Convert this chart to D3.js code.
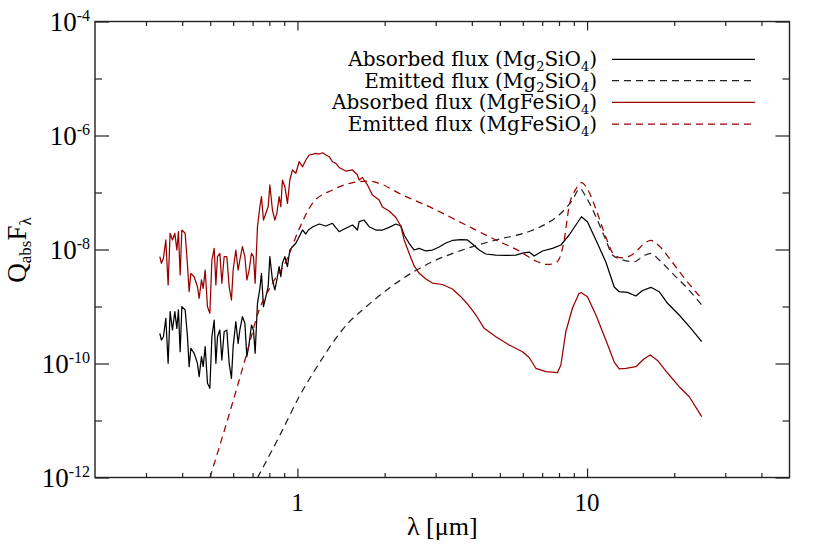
<!DOCTYPE html>
<html>
<head>
<meta charset="utf-8">
<script src="https://cdn.jsdelivr.net/npm/d3@7/dist/d3.min.js"></script>
<style>
  body { margin: 0; background: #fff; }
</style>
</head>
<body>
<div id="chart"></div>
<script>
// wavelengths [micron] of the noisy short-wavelength part, shared by both absorbed curves
const lamShort = [0.3348, 0.3391, 0.3446, 0.3512, 0.3577, 0.3634, 0.3702, 0.3773, 0.3834, 0.3883,
  0.3936, 0.3990, 0.4096, 0.4172, 0.4227, 0.4285, 0.4399, 0.4516, 0.4578, 0.4662,
  0.4726, 0.4802, 0.4891, 0.4985, 0.5065, 0.5159, 0.5229, 0.5296, 0.5397, 0.5483,
  0.5584, 0.5705, 0.5811, 0.5918, 0.5998, 0.6128, 0.6241, 0.6327, 0.6459, 0.6584,
  0.6689, 0.6812, 0.6939, 0.7050, 0.7145, 0.7278, 0.7419, 0.7513, 0.7633, 0.7780,
  0.7923, 0.8030, 0.8198, 0.8356, 0.8490, 0.8647, 0.8763, 0.8875, 0.9048, 0.9236,
  0.9414, 0.9610, 0.9874, 1.0137];

// all fluxes below are log10(Q_abs F_lambda)
const absMg2Short = [-9.470, -9.588, -9.530, -9.207, -9.997, -9.091, -9.412, -9.091, -9.383, -9.061,
  -9.793, -9.003, -9.061, -9.530, -10.056, -9.733, -9.821, -9.997, -10.231, -9.881,
  -10.056, -9.705, -10.347, -10.435, -9.530, -9.237, -9.997, -9.530, -9.412, -9.939,
  -9.442, -9.412, -9.997, -10.260, -9.705, -9.267, -9.646, -9.412, -9.179, -9.295,
  -9.881, -9.646, -9.325, -9.412, -9.821, -8.944, -8.681, -8.418, -9.003, -8.828,
  -8.653, -8.126, -8.535, -8.710, -8.535, -8.302, -8.477, -8.242, -8.126, -8.302,
  -8.009, -7.951, -7.891, -7.776];

const absMgFeShort = [-8.126, -8.242, -8.154, -7.833, -8.623, -7.716, -7.833, -7.716, -8.009, -7.688,
  -8.447, -7.658, -7.716, -8.272, -8.740, -8.418, -8.477, -8.653, -8.856, -8.535,
  -8.681, -8.360, -9.003, -9.119, -8.184, -7.979, -8.623, -8.126, -8.067, -8.593,
  -8.126, -8.126, -8.653, -8.886, -8.360, -8.009, -8.360, -8.184, -7.951, -8.126,
  -8.535, -8.360, -8.067, -8.126, -8.593, -7.600, -7.249, -7.074, -7.483, -7.365,
  -7.249, -6.868, -7.307, -7.483, -7.365, -7.074, -7.249, -6.781, -6.898, -7.190,
  -6.781, -6.605, -6.663, -6.460];

// absorbed flux, Mg2SiO4, lambda > 1 micron
const absMg2LamLong = [1.041, 1.069, 1.091, 1.127, 1.189, 1.254, 1.321, 1.393, 1.469, 1.549,
  1.611, 1.633, 1.699, 1.768, 1.865, 1.966, 2.073, 2.187, 2.275, 2.336,
  2.430, 2.529, 2.632, 2.776, 2.925, 3.085, 3.254, 3.429, 3.666, 3.864,
  4.020, 4.241, 4.473, 4.843, 5.244, 5.679, 5.984, 6.310, 6.567, 7.016,
  7.596, 8.121, 8.675, 9.150, 9.564, 10.03, 10.73, 11.61, 12.41, 12.91,
  13.79, 14.74, 15.54, 16.61, 17.74, 18.96, 20.80, 22.83, 24.88];
const absMg2Long = [-7.658, -7.728, -7.658, -7.605, -7.553, -7.588, -7.540, -7.688, -7.628, -7.570,
  -7.658, -7.512, -7.483, -7.600, -7.658, -7.658, -7.611, -7.553, -7.588, -7.746,
  -7.891, -8.009, -7.979, -8.026, -8.009, -7.956, -7.886, -7.842, -7.825, -7.833,
  -7.904, -8.009, -8.079, -8.097, -8.105, -8.097, -8.062, -8.044, -8.114, -8.026,
  -7.979, -7.921, -7.746, -7.570, -7.425, -7.512, -7.833, -8.219, -8.658, -8.740,
  -8.751, -8.816, -8.719, -8.663, -8.740, -8.944, -9.149, -9.383, -9.618];

// absorbed flux, MgFeSiO4, lambda > 1 micron
const absMgFeLamLong = [1.041, 1.069, 1.098, 1.127, 1.157, 1.189, 1.220, 1.254, 1.287, 1.321,
  1.357, 1.393, 1.469, 1.549, 1.611, 1.633, 1.676, 1.745, 1.815, 1.915,
  1.966, 2.073, 2.187, 2.275, 2.336, 2.430, 2.529, 2.632, 2.776, 2.925,
  3.167, 3.429, 3.666, 3.864, 4.130, 4.413, 4.843, 5.383, 5.984, 6.310,
  6.656, 7.208, 7.904, 8.121, 8.450, 8.906, 9.386, 9.564, 10.03, 10.73,
  11.61, 12.41, 12.91, 13.62, 14.74, 15.75, 16.52, 17.51, 18.96, 20.80,
  22.53, 24.88];
const absMgFeLong = [-6.548, -6.430, -6.342, -6.330, -6.312, -6.325, -6.302, -6.342, -6.372, -6.460,
  -6.488, -6.561, -6.623, -6.605, -6.693, -6.781, -6.737, -6.868, -7.044, -7.131,
  -7.254, -7.325, -7.438, -7.588, -7.833, -8.067, -8.289, -8.418, -8.517, -8.588,
  -8.614, -8.693, -8.828, -8.956, -9.149, -9.383, -9.530, -9.675, -9.793, -9.895,
  -10.084, -10.144, -10.158, -10.026, -9.438, -9.026, -8.768, -8.758, -8.828, -9.149,
  -9.588, -9.974, -10.096, -10.084, -10.056, -9.917, -9.851, -9.947, -10.167, -10.407,
  -10.583, -10.933];

// emitted flux, Mg2SiO4
const emiMg2Lam = [0.7277, 0.8647, 1.0137, 1.1885, 1.393, 1.508, 1.676, 2.187, 2.850, 3.713,
  4.843, 6.310, 7.208, 8.225, 8.906, 9.439, 9.905, 10.73, 11.61, 12.24,
  13.09, 14.55, 15.75, 16.61, 17.74, 19.72, 21.94, 24.88];
const emiMg2 = [-12.004, -11.284, -10.583, -9.997, -9.483, -9.272, -9.061, -8.593, -8.242, -8.009,
  -7.833, -7.684, -7.553, -7.337, -7.131, -6.930, -7.074, -7.425, -7.833, -8.097,
  -8.172, -8.214, -8.105, -8.070, -8.184, -8.418, -8.653, -8.974];

// emitted flux, MgFeSiO4
const emiMgFeLam = [0.4985, 0.5965, 0.6636, 0.7375, 0.8198, 0.9119, 1.0137, 1.1266, 1.321, 1.591,
  1.768, 1.915, 2.305, 2.850, 3.713, 4.843, 5.830, 6.656, 7.300, 7.761,
  8.012, 8.337, 8.675, 9.150, 9.564, 10.03, 10.73, 11.61, 12.41, 13.26,
  14.55, 15.75, 16.61, 17.74, 19.72, 21.94, 24.88];
const emiMgFe = [-12.004, -10.698, -9.881, -9.061, -8.593, -8.214, -7.641, -7.190, -6.956, -6.816,
  -6.798, -6.839, -7.044, -7.249, -7.540, -7.833, -8.026, -8.202, -8.263, -8.237,
  -8.167, -7.833, -7.237, -6.939, -6.828, -6.939, -7.290, -7.781, -8.097, -8.149,
  -8.067, -7.895, -7.842, -7.938, -8.228, -8.535, -8.860];

const xMajor = [1, 10];
const xMinor = [0.3, 0.4, 0.5, 0.6, 0.7, 0.8, 0.9, 2, 3, 4, 5, 6, 7, 8, 9, 20, 30, 40];
const yMajorExp = [-12, -10, -8, -6, -4];
const yMinorExp = [-11, -9, -7, -5];

const legendLabels = [
  [["Absorbed flux (Mg", 0], ["2", 1], ["SiO", 0], ["4", 1], [")", 0]],
  [["Emitted flux (Mg", 0], ["2", 1], ["SiO", 0], ["4", 1], [")", 0]],
  [["Absorbed flux (MgFeSiO", 0], ["4", 1], [")", 0]],
  [["Emitted flux (MgFeSiO", 0], ["4", 1], [")", 0]]
];

const black = "#000", red = "#9a0000";

const series = [
  {lam: lamShort.concat(absMg2LamLong), f: absMg2Short.concat(absMg2Long), color: black, dash: null, smooth: false},
  {lam: emiMg2Lam, f: emiMg2, color: "#222", dash: "7,5", smooth: true},
  {lam: lamShort.concat(absMgFeLamLong), f: absMgFeShort.concat(absMgFeLong), color: red, dash: null, smooth: false},
  {lam: emiMgFeLam, f: emiMgFe, color: red, dash: "7,5", smooth: true}
];

const width = 830, height = 554;
const pLeft = 95, pRight = 789.5, pTop = 21.5, pBottom = 477.5;
const serif = "Liberation Serif";
const legendFont = "DejaVu Serif";

let x = d3.scaleLog().domain([0.2, 50]).range([pLeft, pRight]);
let y = d3.scaleLog().domain([1e-12, 1e-4]).range([pBottom, pTop]);

let svg = d3.select("#chart").append("svg")
    .attr("width", width)
    .attr("height", height);

svg.append("clipPath").attr("id", "plot-clip")
    .append("rect")
    .attr("x", pLeft).attr("y", pTop)
    .attr("width", pRight - pLeft).attr("height", pBottom - pTop);

// curves
let plot = svg.append("g").attr("clip-path", "url(#plot-clip)");

series.forEach(s => {
    let pts = s.lam.map((l, i) => [l, Math.pow(10, s.f[i])]);
    let line = d3.line()
        .x(d => x(d[0]))
        .y(d => y(d[1]))
        .curve(s.smooth ? d3.curveMonotoneX : d3.curveLinear);
    plot.append("path")
        .datum(pts)
        .attr("d", line)
        .attr("fill", "none")
        .attr("stroke", s.color)
        .attr("stroke-width", 1.25)
        .attr("stroke-dasharray", s.dash)
        .attr("stroke-linejoin", "round");
});

// axes: ticks pointing inwards on all four sides
function styleAxis(g) {
    g.select(".domain").remove();
    g.selectAll(".tick line").attr("stroke", "#222").attr("stroke-width", 1.2);
    g.selectAll(".tick text").remove();
}

let yMajor = yMajorExp.map(e => Math.pow(10, e));
let yMinor = yMinorExp.map(e => Math.pow(10, e));

svg.append("g").attr("transform", `translate(0,${pBottom})`)
    .call(d3.axisBottom(x).tickValues(xMajor).tickSize(-9)).call(styleAxis);
svg.append("g").attr("transform", `translate(0,${pBottom})`)
    .call(d3.axisBottom(x).tickValues(xMinor).tickSize(-4.5)).call(styleAxis);
svg.append("g").attr("transform", `translate(0,${pTop})`)
    .call(d3.axisTop(x).tickValues(xMajor).tickSize(-9)).call(styleAxis);
svg.append("g").attr("transform", `translate(0,${pTop})`)
    .call(d3.axisTop(x).tickValues(xMinor).tickSize(-4.5)).call(styleAxis);

svg.append("g").attr("transform", `translate(${pLeft},0)`)
    .call(d3.axisLeft(y).tickValues(yMajor).tickSize(-14)).call(styleAxis);
svg.append("g").attr("transform", `translate(${pLeft},0)`)
    .call(d3.axisLeft(y).tickValues(yMinor).tickSize(-7)).call(styleAxis);
svg.append("g").attr("transform", `translate(${pRight},0)`)
    .call(d3.axisRight(y).tickValues(yMajor).tickSize(-14)).call(styleAxis);
svg.append("g").attr("transform", `translate(${pRight},0)`)
    .call(d3.axisRight(y).tickValues(yMinor).tickSize(-7)).call(styleAxis);

svg.append("rect")
    .attr("x", pLeft).attr("y", pTop)
    .attr("width", pRight - pLeft).attr("height", pBottom - pTop)
    .attr("fill", "none")
    .attr("stroke", "#222")
    .attr("stroke-width", 1.4);

// tick labels
svg.selectAll(".xlab").data(xMajor).enter().append("text")
    .attr("class", "xlab")
    .style("font-family", serif)
    .attr("x", d => x(d))
    .attr("y", pBottom + 33)
    .attr("text-anchor", "middle")
    .attr("font-size", 25)
    .text(d => d);

let ylab = svg.selectAll(".ylab").data(yMajorExp).enter().append("text")
    .attr("class", "ylab")
    .style("font-family", serif)
    .attr("x", pLeft - 5)
    .attr("y", d => y(Math.pow(10, d)) + 9.5)
    .attr("text-anchor", "end")
    .attr("font-size", 27);
ylab.append("tspan").text("10");
ylab.append("tspan").attr("dy", -10).attr("font-size", 16).text(d => d);

// axis titles
svg.append("text")
    .style("font-family", serif)
    .attr("x", (pLeft + pRight) / 2)
    .attr("y", 535)
    .attr("text-anchor", "middle")
    .attr("font-size", 26)
    .text("λ [μm]");

let ytitle = svg.append("text")
    .style("font-family", serif)
    .attr("transform", "translate(26,250) rotate(-90)")
    .attr("text-anchor", "middle")
    .attr("font-size", 27);
ytitle.append("tspan").text("Q");
ytitle.append("tspan").attr("font-size", 17).attr("dy", 5).text("abs");
ytitle.append("tspan").attr("dy", -5).text("F");
ytitle.append("tspan").attr("font-size", 17).attr("dy", 5).text("λ");

// legend
let legendY = [59.3, 80.7, 102.3, 124];
let legend = svg.selectAll(".leg").data(series).enter().append("g").attr("class", "leg");

legend.append("line")
    .attr("x1", 612).attr("x2", 755)
    .attr("y1", (d, i) => legendY[i]).attr("y2", (d, i) => legendY[i])
    .attr("stroke", d => d.color)
    .attr("stroke-width", 1.25)
    .attr("stroke-dasharray", d => d.dash);

legend.append("text")
    .style("font-family", legendFont)
    .attr("x", 597)
    .attr("y", (d, i) => legendY[i] + 7)
    .attr("text-anchor", "end")
    .attr("font-size", 20)
    .each(function(d, i) {
        let t = d3.select(this);
        let shift = 0;
        legendLabels[i].forEach(p => {
            let dy = p[1] ? 4.5 - shift : -shift;
            shift += dy;
            t.append("tspan")
                .attr("dy", dy)
                .attr("font-size", p[1] ? 13 : 20)
                .text(p[0]);
        });
    });
</script>
</body>
</html>
